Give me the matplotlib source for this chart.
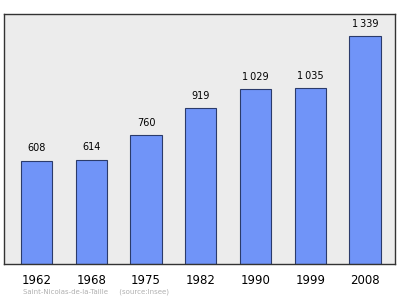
import matplotlib
matplotlib.use("Agg")
import matplotlib.pyplot as plt

# population by census year
years = ["1962", "1968", "1975", "1982", "1990", "1999", "2008"]
population = [608, 614, 760, 919, 1029, 1035, 1339]
value_labels = ["608", "614", "760", "919", "1\u2009029", "1\u2009035", "1\u2009339"]

fig = plt.figure(figsize=(4.0, 2.99), dpi=100)
ax = fig.add_axes([0.01, 0.117, 0.9775, 0.836])
ax.set_facecolor("#ececec")

x = range(len(years))
bars = ax.bar(x, population, width=0.57, color="#7094f8",
              edgecolor="#2b3b6b", linewidth=0.8, zorder=2)

for b, lab in zip(bars, value_labels):
    ax.text(b.get_x() + b.get_width() / 2, b.get_height() + 42, lab,
            ha="center", va="bottom", fontsize=7, color="black")

ax.set_xlim(-0.594, 6.548)
ax.set_ylim(0, 1470)
ax.set_xticks(list(x))
ax.set_xticklabels(years, fontsize=8.5)
ax.tick_params(axis="x", length=0, pad=7)
ax.set_yticks([])
for s in ax.spines.values():
    s.set_color("#333333")
    s.set_linewidth(1.0)

fig.text(23 / 400, 1 - 292 / 299, "Saint-Nicolas-de-la-Taille     (source:Insee)",
         fontsize=5, color="#b0b0b0", va="center", ha="left")

fig.savefig("out.png", dpi=100)
